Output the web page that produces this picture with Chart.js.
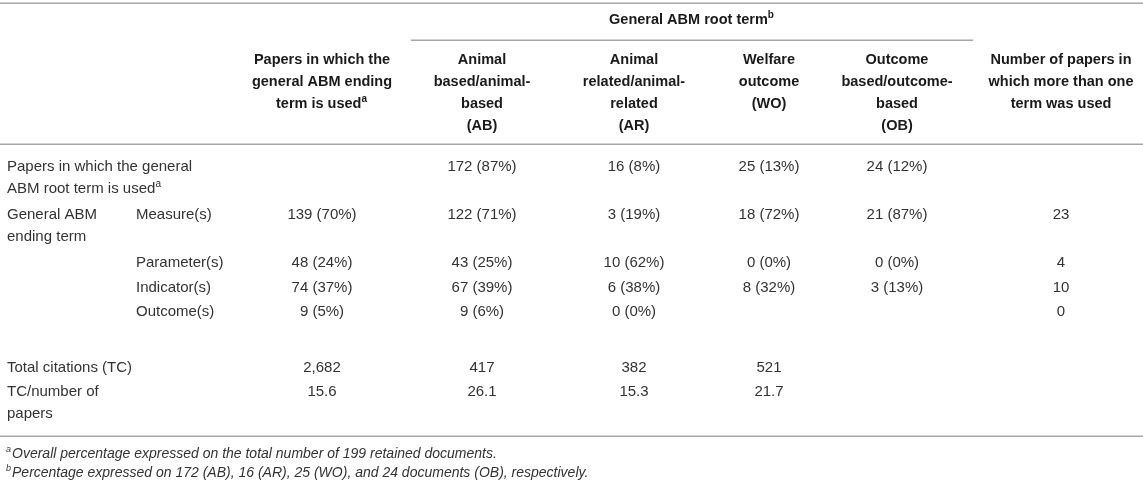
<!DOCTYPE html>
<html>
<head>
<meta charset="utf-8">
<title>General ABM terms</title>
<script src="https://cdn.jsdelivr.net/npm/chart.js@4.4.1/dist/chart.umd.min.js"></script>
<style>
    html, body { margin: 0; padding: 0; background: #ffffff; }
    #wrap { width: 1143px; height: 484px; position: relative; }
</style>
</head>
<body>
<div id="wrap"><canvas id="tableChart"></canvas></div>
<script>
// Table data (text as printed, ^x marks a superscript)
const groupHeader = 'General ABM root term^b';
const columnHeaders = [
    ['Papers in which the', 'general ABM ending', 'term is used^a'],
    ['Animal', 'based/animal-', 'based', '(AB)'],
    ['Animal', 'related/animal-', 'related', '(AR)'],
    ['Welfare', 'outcome', '(WO)'],
    ['Outcome', 'based/outcome-', 'based', '(OB)'],
    ['Number of papers in', 'which more than one', 'term was used']
];
const rowLabels = [
    ['Papers in which the general', 'ABM root term is used^a'],
    ['General ABM', 'ending term'],
    [], [], [],
    ['Total citations (TC)'],
    ['TC/number of', 'papers']
];
const endingTerms = ['', 'Measure(s)', 'Parameter(s)', 'Indicator(s)', 'Outcome(s)', '', ''];
const endingTermUsed = ['', '139 (70%)', '48 (24%)', '74 (37%)', '9 (5%)', '2,682', '15.6'];
const animalBased = ['172 (87%)', '122 (71%)', '43 (25%)', '67 (39%)', '9 (6%)', '417', '26.1'];
const animalRelated = ['16 (8%)', '3 (19%)', '10 (62%)', '6 (38%)', '0 (0%)', '382', '15.3'];
const welfareOutcome = ['25 (13%)', '18 (72%)', '0 (0%)', '8 (32%)', '', '521', '21.7'];
const outcomeBased = ['24 (12%)', '21 (87%)', '0 (0%)', '3 (13%)', '', '', ''];
const moreThanOne = ['', '23', '4', '10', '0', '', ''];
const footnotes = [
    '^aOverall percentage expressed on the total number of 199 retained documents.',
    '^bPercentage expressed on 172 (AB), 16 (AR), 25 (WO), and 24 documents (OB), respectively.'
];

// Layout (table units = canvas pixels)
const colX = [322, 482, 634, 769, 897, 1061];
const rowY = [167, 215, 263, 288, 312, 368, 392];
const labelX = 7;
const endingX = 136;
const headerTop = 60;
const groupY = 20;
const lineStep = 22;
const footY = [454, 473];
const rules = [
    { y: 3, x0: 0, x1: 1143 },
    { y: 40, x0: 411, x1: 973 },
    { y: 144, x0: 0, x1: 1143 },
    { y: 436, x0: 0, x1: 1143 }
];

const FONT = '"Liberation Sans", Arial, sans-serif';
const bodyFont = { size: 15, style: 'normal', weight: 'normal', color: '#333333' };
const headFont = { size: 14.5, style: 'normal', weight: 'bold', color: '#1a1a1a' };
const footFont = { size: 14, style: 'italic', weight: 'normal', color: '#333333' };

function fontString(f, size) {
    return `${f.style} ${f.weight} ${size || f.size}px ${FONT}`;
}

// draw text with an optional ^x superscript
function drawRich(ctx, text, x, y, align, f) {
    const parts = [];
    const re = /\^(\w)/g;
    let last = 0, m;
    while ((m = re.exec(text)) !== null) {
        if (m.index > last) parts.push({ t: text.slice(last, m.index), sup: false });
        parts.push({ t: m[1], sup: true });
        last = re.lastIndex;
    }
    if (last < text.length) parts.push({ t: text.slice(last), sup: false });

    const supSize = Math.round(f.size * 0.66);
    let total = 0;
    parts.forEach(p => {
        ctx.font = fontString(f, p.sup ? supSize : f.size);
        p.w = ctx.measureText(p.t).width + (p.sup ? 1 : 0);
        total += p.w;
    });
    let cx = align === 'center' ? x - total / 2 : x;
    ctx.fillStyle = f.color;
    ctx.textAlign = 'left';
    ctx.textBaseline = 'middle';
    parts.forEach(p => {
        ctx.font = fontString(f, p.sup ? supSize : f.size);
        ctx.fillText(p.t, cx, p.sup ? y - f.size * 0.35 : y);
        cx += p.w;
    });
}

// Build datasets: every cell is a point placed through the scales
function cellDataset(texts, x, align, font) {
    const data = [];
    texts.forEach((t, i) => {
        if (t) data.push({ x: x, y: rowY[i], text: t });
    });
    return { data, align, tableFont: font };
}

function linesDataset(lines, x, y0, align, font) {
    return {
        data: lines.map((t, i) => ({ x: x, y: y0 + i * lineStep, text: t })),
        align, tableFont: font
    };
}

const datasets = [];
datasets.push(linesDataset([groupHeader], (rules[1].x0 + rules[1].x1) / 2, groupY, 'center', headFont));
columnHeaders.forEach((lines, c) => {
    datasets.push(linesDataset(lines, colX[c], headerTop, 'center', headFont));
});
rowLabels.forEach((lines, r) => {
    if (lines.length) datasets.push(linesDataset(lines, labelX, rowY[r], 'left', bodyFont));
});
datasets.push(cellDataset(endingTerms, endingX, 'left', bodyFont));
[endingTermUsed, animalBased, animalRelated, welfareOutcome, outcomeBased, moreThanOne].forEach((col, c) => {
    datasets.push(cellDataset(col, colX[c], 'center', bodyFont));
});
footnotes.forEach((t, i) => {
    datasets.push({ data: [{ x: labelX - 1, y: footY[i], text: t }], align: 'left', tableFont: footFont });
});
datasets.forEach(d => {
    d.pointRadius = 0;
    d.showLine = false;
});

const tablePlugin = {
    id: 'tablePlugin',
    beforeDatasetsDraw(chart) {
        const ctx = chart.ctx;
        const xs = chart.scales.x, ys = chart.scales.y;
        ctx.save();
        ctx.strokeStyle = '#a6a6a6';
        ctx.lineWidth = 1.5;
        rules.forEach(r => {
            const py = Math.round(ys.getPixelForValue(r.y)) + 0.25;
            ctx.beginPath();
            ctx.moveTo(xs.getPixelForValue(r.x0), py);
            ctx.lineTo(xs.getPixelForValue(r.x1), py);
            ctx.stroke();
        });
        ctx.restore();
    },
    afterDatasetsDraw(chart) {
        const ctx = chart.ctx;
        ctx.save();
        chart.data.datasets.forEach((ds, i) => {
            const meta = chart.getDatasetMeta(i);
            meta.data.forEach((pt, j) => {
                drawRich(ctx, ds.data[j].text, pt.x, pt.y, ds.align, ds.tableFont);
            });
        });
        ctx.restore();
    }
};

new Chart(document.getElementById('tableChart'), {
    type: 'scatter',
    data: { datasets },
    options: {
        responsive: true,
        maintainAspectRatio: false,
        animation: false,
        events: [],
        layout: { padding: 0 },
        plugins: {
            legend: { display: false },
            tooltip: { enabled: false }
        },
        scales: {
            x: { type: 'linear', min: 0, max: 1143, display: false },
            y: { type: 'linear', min: 0, max: 484, reverse: true, display: false }
        }
    },
    plugins: [tablePlugin]
});
</script>
</body>
</html>
